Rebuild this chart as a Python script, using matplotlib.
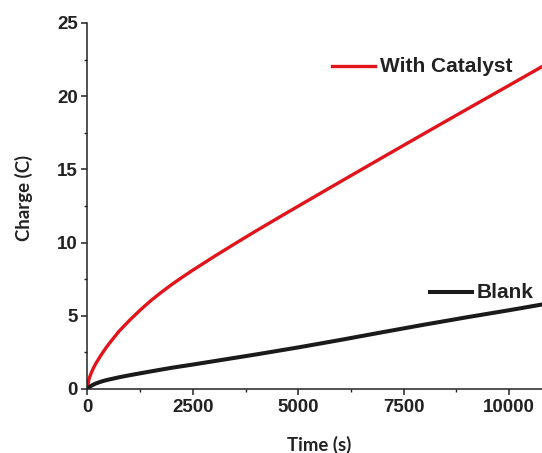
import matplotlib
matplotlib.use('Agg')
import matplotlib.pyplot as plt
from matplotlib.ticker import MultipleLocator

# values
time_cat = [0, 25, 50, 100, 150, 200, 300, 400, 500, 750, 1000, 1250, 1500,
            1750, 2000, 2250, 2500, 3000, 3500, 4000, 4500, 5000, 6000, 7000,
            8000, 9000, 10000, 10800]
charge_catalyst = [0, 0.55, 0.8, 1.17, 1.48, 1.75, 2.22, 2.65, 3.05, 3.95,
                   4.7, 5.39, 6.03, 6.6, 7.14, 7.64, 8.12, 9.04, 9.93, 10.8,
                   11.65, 12.49, 14.16, 15.82, 17.47, 19.11, 20.74, 22.05]

time_blank = [0, 25, 50, 100, 200, 300, 400, 500, 750, 1000, 1500, 2000, 2500,
              3000, 3500, 4000, 5000, 6000, 7000, 8000, 9000, 10000, 10800]
charge_blank = [0, 0.08, 0.14, 0.24, 0.38, 0.48, 0.57, 0.64, 0.8, 0.94, 1.2,
                1.45, 1.67, 1.9, 2.13, 2.36, 2.84, 3.35, 3.88, 4.4, 4.9, 5.38,
                5.78]

TICK_FONT = 'Liberation Sans'
LABEL_FONT = 'Lato'
TXT = '#222222'

fig = plt.figure(figsize=(5.42, 4.53), dpi=100)
ax = fig.add_axes([0.1614, 0.1413, 0.8386, 0.808])

ax.plot(time_cat, charge_catalyst, color='#e2141b', lw=2.4, solid_capstyle='round')
ax.plot(time_blank, charge_blank, color='#1a1a1a', lw=2.9, solid_capstyle='round')

ax.set_xlim(0, 10780)
ax.set_ylim(0, 25)
ax.xaxis.set_major_locator(MultipleLocator(2500))
ax.xaxis.set_minor_locator(MultipleLocator(1250))
ax.yaxis.set_major_locator(MultipleLocator(5))
ax.yaxis.set_minor_locator(MultipleLocator(2.5))

for s in ['top', 'right']:
    ax.spines[s].set_visible(False)
for s in ['left', 'bottom']:
    ax.spines[s].set_linewidth(1.1)
    ax.spines[s].set_color(TXT)

ax.tick_params(which='major', direction='out', length=4, width=1.1, color=TXT, pad=3)
ax.tick_params(which='minor', direction='out', length=2.5, width=1.0, color=TXT)
for lab in ax.get_xticklabels() + ax.get_yticklabels():
    lab.set_fontfamily(TICK_FONT)
    lab.set_fontweight('bold')
    lab.set_fontsize(13.5)
    lab.set_color(TXT)

ax.set_xlabel('Time (s)', fontfamily=LABEL_FONT, fontweight='bold', fontsize=13.4,
              color=TXT)
ax.set_ylabel('Charge (C)', fontfamily=LABEL_FONT, fontweight='bold', fontsize=13.4,
              color=TXT)
ax.xaxis.set_label_coords(0.51, -0.128)
ax.yaxis.set_label_coords(-0.12, 0.522)

# legend drawn as line + text inside the plot
ax.plot([5800, 6820], [22.05, 22.05], color='#e2141b', lw=2.4, clip_on=False)
ax.text(6930, 22.05, 'With Catalyst', fontfamily=TICK_FONT, fontweight='bold',
        fontsize=15, va='center', color=TXT)
ax.plot([8120, 9120], [6.6, 6.6], color='#1a1a1a', lw=2.9, clip_on=False)
ax.text(9230, 6.6, 'Blank', fontfamily=TICK_FONT, fontweight='bold',
        fontsize=15, va='center', color=TXT)

fig.savefig('out.png', dpi=100)
